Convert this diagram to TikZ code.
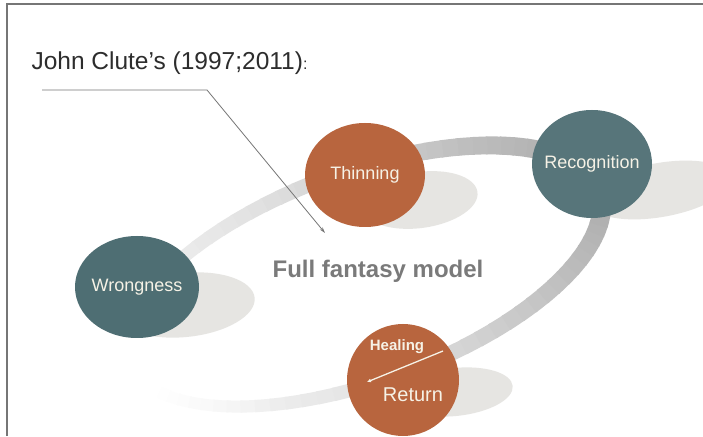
\documentclass[tikz,border=0pt]{standalone}
\usepackage{fontspec}
\setmainfont{Liberation Sans}
\usetikzlibrary{shapes.geometric,arrows.meta}
\definecolor{tealdisc}{RGB}{78,110,115}
\definecolor{rustdisc}{RGB}{184,101,62}
\definecolor{shadowgray}{RGB}{230,229,226}
\definecolor{labelcream}{RGB}{246,242,230}
\definecolor{framegray}{RGB}{118,118,118}
\definecolor{titlegray}{RGB}{45,45,45}
\definecolor{modelgray}{RGB}{122,122,122}
\tikzset{
  stage/.style={ellipse, draw=none, inner ysep=0pt, inner xsep=-16pt, text=labelcream,
    font=\fontsize{18}{20}\selectfont},
  shadowblob/.style={fill=shadowgray},
}
\begin{document}
\begin{tikzpicture}[x=1pt, y=1pt]
  \clip (0,0) rectangle (703,436);
  \fill[white] (0,0) rectangle (703,436);
  % slide frame
  \draw[framegray, line width=2] (7,0) -- (7,432) -- (703,432);

  % shadows under the discs
  \fill[shadowblob, rotate around={6:(185,131)}] (185,131) ellipse [x radius=70, y radius=32];
  \fill[shadowblob, rotate around={8:(420,236)}] (420,236) ellipse [x radius=58, y radius=28];
  \fill[shadowblob, rotate around={10:(660,246)}] (660,246) ellipse [x radius=72, y radius=27];
  \fill[shadowblob, rotate around={6:(455,44)}] (455,44) ellipse [x radius=58, y radius=24];

  % the cycle band, fading out at the lower left
  \begin{scope}[shift={(364,160)}, rotate=20]
    \foreach \a in {-158,-154,...,160} {
      \pgfmathsetmacro\ringshade{(5+27*((1+cos(\a-5))/2)^1.5)*min(1,(\a+160)/40)}
      \pgfmathsetmacro\ringwd{11+8*(1+cos(\a-5))/2}
      \draw[black!\ringshade, line width=\ringwd pt]
        (\a:250pt and 105pt) arc[start angle=\a, end angle=\a+4.5, x radius=250pt, y radius=105pt];
    }
  \end{scope}

  % stages
  \node[stage, fill=tealdisc, minimum width=124, minimum height=102] (wrong) at (137,149) {Wrongness};
  \node[stage, fill=rustdisc, minimum width=120, minimum height=104] (thin) at (365,261) {Thinning};
  \node[stage, fill=tealdisc!95!white, minimum width=120, minimum height=108] (recog) at (592,272) {Recognition};
  \node[stage, fill=rustdisc, minimum width=112, minimum height=112] (heal) at (403,56) {};

  \node[text=labelcream, font=\bfseries\fontsize{15}{17}\selectfont] (healtxt) at (397,89) {Healing};
  \node[text=labelcream, font=\fontsize{20}{22}\selectfont] (returntxt) at (413,41) {Return};
  \coordinate (strokeA) at (443,85);
  \coordinate (strokeB) at (367,54);
  \draw[labelcream, line width=1.3, -{Latex[length=4pt,width=4pt]}] (strokeA) -- (strokeB);

  % texts
  \node[anchor=base west, text=titlegray, font=\fontsize{24.5}{28}\selectfont] (title) at (28,366)
    {John Clute’s (1997;2011){\fontsize{16}{16}\selectfont :}};
  \node[text=modelgray, font=\bfseries\fontsize{24}{28}\selectfont] (model) at (378,165) {Full fantasy model};

  % callout
  \coordinate (calloutstart) at (42,346);
  \coordinate (calloutbend) at (207,346);
  \coordinate (callouttip) at (325,203);
  \draw[framegray, line width=0.8, -{Stealth[length=6pt,width=3.5pt]}] (calloutstart) -- (calloutbend) -- (callouttip);
\end{tikzpicture}
\end{document}
